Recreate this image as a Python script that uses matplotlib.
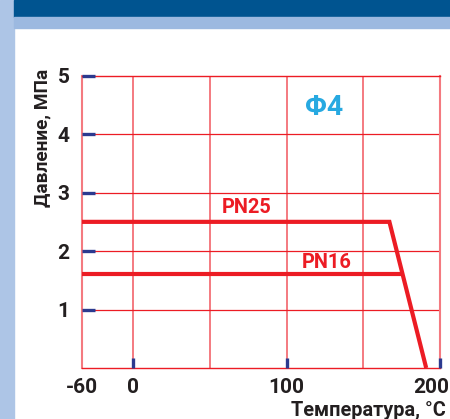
import numpy as np
import matplotlib
matplotlib.use("Agg")
import matplotlib.pyplot as plt
import matplotlib.patches as mpatches
from matplotlib.transforms import ScaledTranslation

# ---- data ----
pn25_t = [-60, 167, 191]
pn25_p = [2.5, 2.5, 0.0]
pn16_t = [-60, 175]
pn16_p = [1.6, 1.6]
x_ticks = [-60, 0, 100, 200]
x_ticklabels = ["-60", "0", "100", "200"]
y_ticks = [1, 2, 3, 4, 5]
y_ticklabels = ["1", "2", "3", "4", "5"]
grid_x = [0, 50, 100, 150]
grid_y = [1, 2, 3, 4]

FONT = ["Roboto", "DejaVu Sans"]
plt.rcParams['font.family'] = FONT
RED = "#ec1c24"
PINK = "#f47a80"
NAVY = "#2b3a8f"
TXT = "#231f20"

fig = plt.figure(figsize=(4.5, 4.19), dpi=100)
fig.patch.set_facecolor("white")

# decorative frame
fig.add_artist(mpatches.Rectangle((0, 0), 14/450, 1, transform=fig.transFigure,
                                  color="#adc5e6", zorder=0))
fig.add_artist(mpatches.Rectangle((14/450, 1-17/419), 1, 17/419, transform=fig.transFigure,
                                  color="#005490", zorder=0))
fig.add_artist(mpatches.Rectangle((14/450, 1-28/419), 1, 11/419, transform=fig.transFigure,
                                  color="#9cb9e0", zorder=0))

ax = fig.add_axes([82/450, 1-368/419, 358/450, (368-75.7)/419])

k = 33.5/60
def fwd(x):
    x = np.asarray(x, dtype=float)
    return np.where(x < 0, x*k, x)
def inv(x):
    x = np.asarray(x, dtype=float)
    return np.where(x < 0, x/k, x)
ax.set_xscale('function', functions=(fwd, inv))
ax.set_xlim(-60, 200)
ax.set_ylim(0, 5)

for s in ax.spines.values():
    s.set_linewidth(1.0)
    s.set_zorder(1.5)
ax.spines['left'].set_color(PINK)
ax.spines['right'].set_color(PINK)
ax.spines['left'].set_linewidth(1.5)
ax.spines['right'].set_linewidth(1.5)
ax.spines['top'].set_color(RED)
ax.spines['bottom'].set_color(RED)

ax.vlines(grid_x, 0, 5, colors=PINK, linewidth=1.4, zorder=1)
ax.hlines(grid_y, -60, 200, colors=RED, linewidth=0.9, zorder=1)

ax.plot(pn25_t, pn25_p, color=RED, linewidth=3.0, solid_joinstyle='miter',
        solid_capstyle='butt', zorder=3)
ax.plot(pn16_t, pn16_p, color=RED, linewidth=3.0, solid_joinstyle='miter',
        solid_capstyle='butt', zorder=3)

ax.set_xticks(x_ticks)
ax.set_xticklabels(x_ticklabels)
ax.set_yticks(y_ticks)
ax.set_yticklabels(y_ticklabels)
ax.xaxis.set_minor_locator(matplotlib.ticker.NullLocator())
ax.tick_params(axis='y', direction='in', length=9, width=2.4, color=NAVY, pad=9,
               labelsize=15, labelcolor=TXT)
ax.tick_params(axis='x', direction='in', length=7.5, width=2.4, color=NAVY, pad=7,
               labelsize=15, labelcolor=TXT)
for lbl in ax.get_xticklabels() + ax.get_yticklabels():
    lbl.set_fontweight('bold')
ax.xaxis.get_major_ticks()[0].tick1line.set_visible(False)
lab200 = ax.get_xticklabels()[-1]
lab200.set_transform(lab200.get_transform() + ScaledTranslation(-9/100, 0, fig.dpi_scale_trans))
ax.set_axisbelow(False)

ax.text(124.5, 4.45, "Φ4", color="#27a9e1", fontsize=20.5, fontweight='bold',
        ha='center', va='center')
ax.text(74, 2.74, "PN25", color=RED, fontsize=14.4, fontweight='bold', ha='center', va='center')
ax.text(126, 1.8, "PN16", color=RED, fontsize=14.4, fontweight='bold', ha='center', va='center')

fig.text(42/450, 1-138/419, "Давление, МПа", rotation=90, ha='center', va='center',
         fontsize=13.8, fontweight='bold', color=TXT)
fig.text(446/450, 1-410/419, "Температура, °C", ha='right', va='center',
         fontsize=14.3, fontweight='bold', color=TXT)

fig.savefig("out.png", dpi=100)
